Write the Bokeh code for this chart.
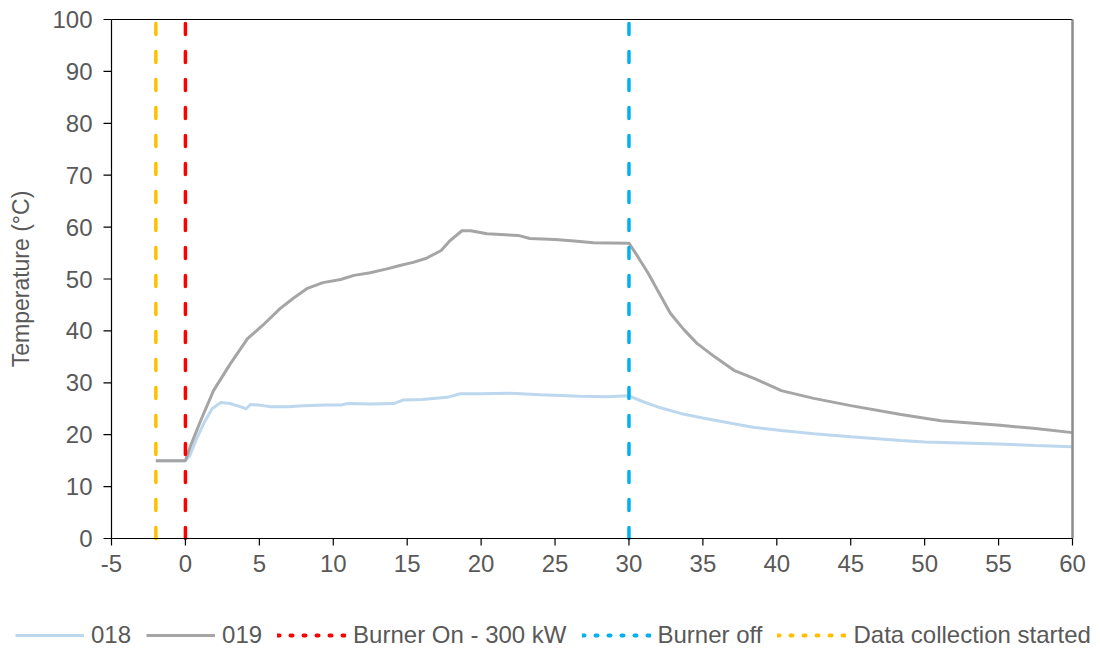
import math
from bokeh.plotting import figure
from bokeh.models import Legend, LegendItem, Range1d
from bokeh.core.properties import value
from bokeh.embed import file_html
from bokeh.resources import INLINE

# ---- data ----
x_018 = [-2, 0, 0.3, 0.8, 1.3, 1.8, 2.4, 3.0, 3.6, 4.1, 4.4, 5.0, 5.8, 6.9, 8.0, 9.5,
         10.5, 11.0, 12.5, 14.1, 14.75, 16.0, 17.7, 18.6, 20.0, 22.0, 24.0, 26.7, 28.5,
         30.0, 31.0, 32.0, 33.5, 35.0, 36.9, 38.5, 40.3, 42.5, 45, 48.4, 50, 52.5, 55, 57.5, 60]
y_018 = [15, 15, 16.0, 19.5, 22.5, 25.0, 26.2, 26.0, 25.5, 25.0, 25.8, 25.7, 25.4, 25.4, 25.6, 25.7,
         25.7, 26.0, 25.9, 26.0, 26.7, 26.8, 27.2, 27.9, 27.9, 28.0, 27.7, 27.4, 27.3,
         27.5, 26.3, 25.3, 24.1, 23.2, 22.2, 21.4, 20.8, 20.2, 19.6, 18.9, 18.6, 18.4, 18.2, 17.9, 17.7]

x_019 = [-2, 0, 0.3, 1.0, 1.9, 3.0, 4.2, 5.2, 6.4, 7.3, 8.25, 9.3, 10.5, 11.4, 12.5, 13.7,
         14.5, 15.4, 16.3, 17.3, 17.9, 18.7, 19.3, 20.4, 22.5, 23.3, 25.0, 26.3, 27.6, 30.0,
         30.6, 31.3, 32.0, 32.8, 33.7, 34.6, 35.8, 37.1, 38.5, 40.3, 42.5, 45, 48.4, 51.1,
         55.1, 57.5, 60]
y_019 = [15, 15, 17.5, 22.5, 28.5, 33.5, 38.5, 41.0, 44.3, 46.3, 48.2, 49.3, 49.9, 50.7, 51.2, 52.0,
         52.6, 53.2, 54.0, 55.5, 57.4, 59.3, 59.3, 58.7, 58.4, 57.8, 57.6, 57.3, 57.0, 56.9,
         54.3, 51.1, 47.5, 43.4, 40.3, 37.6, 35.0, 32.4, 30.8, 28.5, 27.0, 25.6, 23.9, 22.7,
         21.8, 21.2, 20.4]

burner_on_x = 0
burner_off_x = 30
data_start_x = -2

x_ticks = list(range(-5, 61, 5))
y_ticks = list(range(0, 101, 10))
x_tick_labels = [str(t) for t in x_ticks]
y_tick_labels = [str(t) for t in y_ticks]
y_axis_title = "Temperature (°C)"

series_labels = ["018", "019"]
event_labels = ["Burner On - 300 kW", "Burner off", "Data collection started"]

# ---- style / layout ----
TEXT = "#595959"
FONT = "Liberation Sans"
C018, C019 = "#BDD7EE", "#A5A5A5"
CON, COFF, CSTART = "#FF0000", "#00B0F0", "#FFC000"

X_MIN, X_MAX = -5, 60
Y_MIN, Y_MAX = 0, 100
W, H = 1100, 649
FL, FR, FT, FB = 111, 1072, 19, 538   # plotting-area pixel box
kx = (FR - FL) / (X_MAX - X_MIN)
ky = (FB - FT) / (Y_MAX - Y_MIN)

p = figure(width=W, height=H, output_backend="svg", toolbar_location=None,
           x_range=Range1d(X_MIN - FL / kx, X_MAX + (W - FR) / kx),
           y_range=Range1d(Y_MIN - (H - FB) / ky, Y_MAX + FT / ky),
           x_axis_location=None, y_axis_location=None,
           min_border=0, min_border_left=0, min_border_right=0,
           min_border_top=0, min_border_bottom=0)
p.xgrid.visible = False
p.ygrid.visible = False
p.outline_line_color = None
p.background_fill_color = "white"
p.border_fill_color = "white"

# data lines
r018 = p.line(x_018, y_018, line_color=C018, line_width=3)
r019 = p.line(x_019, y_019, line_color=C019, line_width=3)

# plot-area frame: top (black) and right (gray)
p.line([X_MIN, X_MAX], [Y_MAX, Y_MAX], line_color="black", line_width=1)
p.line([X_MAX, X_MAX], [Y_MIN, Y_MAX], line_color="#8C8C8C", line_width=2.5)

# vertical event lines
for xv, col in ((burner_on_x, CON), (burner_off_x, COFF), (data_start_x, CSTART)):
    p.line([xv, xv], [Y_MIN, Y_MAX], line_color=col, line_width=3.5,
           line_dash="11 17", line_cap="round")

# axes lines
p.line([X_MIN, X_MIN], [Y_MIN, Y_MAX], line_color="black", line_width=1.2)
p.line([X_MIN, X_MAX], [Y_MIN, Y_MIN], line_color="black", line_width=1.2)

# tick marks
p.ray(x=[X_MIN] * len(y_ticks), y=y_ticks, length=8, length_units="screen",
      angle=math.pi, line_color="black", line_width=1.2)
p.ray(x=x_ticks, y=[Y_MIN] * len(x_ticks), length=7, length_units="screen",
      angle=-math.pi / 2, line_color="black", line_width=1.2)

# tick labels
p.text(x=x_ticks, y=[Y_MIN] * len(x_ticks), text=x_tick_labels, y_offset=25,
       text_align="center", text_baseline="middle", text_color=TEXT,
       text_font=value(FONT), text_font_size=value("24px"))
p.text(x=[X_MIN] * len(y_ticks), y=y_ticks, text=y_tick_labels, x_offset=-19,
       text_align="right", text_baseline="middle", text_color=TEXT,
       text_font=value(FONT), text_font_size=value("24px"))

# y axis title
p.text(x=[X_MIN], y=[(Y_MIN + Y_MAX) / 2], text=[y_axis_title], x_offset=-91,
       angle=math.pi / 2, text_align="center", text_baseline="middle", text_color=TEXT,
       text_font=value(FONT), text_font_size=value("23px"))

# legend proxies for dashed event lines
nan = float("nan")
gon = p.line([nan], [nan], line_color=CON, line_width=4, line_dash="2 11", line_cap="round")
goff = p.line([nan], [nan], line_color=COFF, line_width=4, line_dash="2 11", line_cap="round")
gst = p.line([nan], [nan], line_color=CSTART, line_width=4, line_dash="2 11", line_cap="round")

legend = Legend(items=[
    LegendItem(label=series_labels[0], renderers=[r018]),
    LegendItem(label=series_labels[1], renderers=[r019]),
    LegendItem(label=event_labels[0], renderers=[gon]),
    LegendItem(label=event_labels[1], renderers=[goff]),
    LegendItem(label=event_labels[2], renderers=[gst]),
], orientation="horizontal", location=(15, 0))
legend.label_text_font = FONT
legend.label_text_font_size = "24px"
legend.label_text_color = TEXT
legend.glyph_width = 69
legend.glyph_height = 24
legend.label_height = 24
legend.label_standoff = 7
legend.spacing = 15
legend.padding = 0
legend.margin = 0
legend.border_line_alpha = 0
legend.background_fill_alpha = 0
p.add_layout(legend, "center")

open("out.html", "w").write(file_html(p, INLINE))
